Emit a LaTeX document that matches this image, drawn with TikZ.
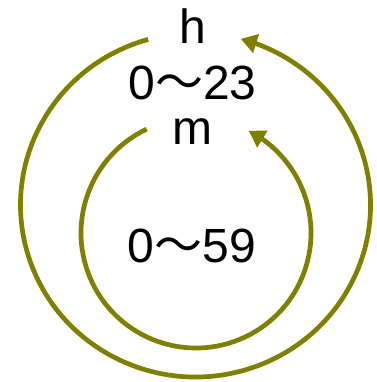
\documentclass[tikz,border=0pt]{standalone}
\usepackage{fontspec}
\setmainfont{Liberation Sans}
\newfontfamily\cjk{Noto Sans CJK SC}
\usetikzlibrary{arrows.meta,bending}
\definecolor{olivec}{RGB}{128,128,0}
\begin{document}
\begin{tikzpicture}[x=1pt,y=1pt,
  loop/.style={draw=olivec,line width=4.7pt},
  looparrow/.style={loop,-{Triangle[length=16pt,width=19pt]}},
  lbl/.style={anchor=base,inner sep=0pt,font=\fontsize{48}{56}\selectfont}]
\useasboundingbox (0,0) rectangle (376,382);
\coordinate (co) at (195.5,177);
\coordinate (ci) at (196,149);
\draw[looparrow] (co) ++(105.7:175 and 172) arc[start angle=105.7,end angle=435,x radius=175,y radius=172];
\draw[looparrow] (ci) ++(115.4:115 and 115) arc[start angle=115.4,end angle=422.7,radius=115];
\node[lbl] (h) at (193,338.7) {h};
\node[lbl] (r1) at (192.5,282) {0{\cjk ～}23};
\node[lbl] (m) at (192,237) {m};
\node[lbl] (r2) at (192,119) {0{\cjk ～}59};
\end{tikzpicture}
\end{document}
